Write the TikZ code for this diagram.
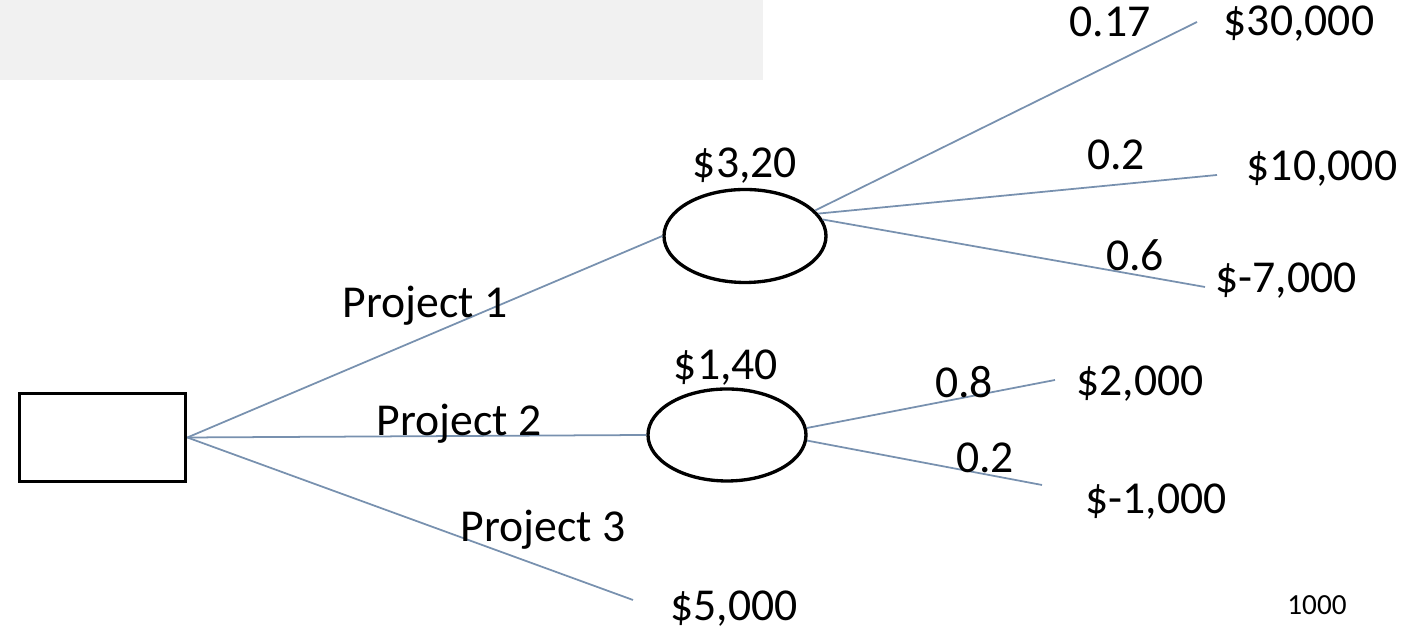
\documentclass[tikz,border=0pt]{standalone}
\usepackage{fontspec}
\setmainfont{Carlito}
\usetikzlibrary{shapes.geometric}
\definecolor{branch}{RGB}{120,145,175}
\definecolor{panel}{RGB}{241,241,241}
\tikzset{
  px/.style={x=0.1mm,y=-0.1mm},
  decision/.style={draw=black,line width=1.05pt,fill=white,minimum width=16.6mm,minimum height=8.8mm,inner sep=0pt},
  chance/.style={ellipse,draw=black,line width=0.95pt,fill=white,inner sep=0pt},
  branchline/.style={draw=branch,line width=0.5pt},
  lbl/.style={anchor=base,inner sep=0pt,font=\fontsize{13}{15}\selectfont},
  small/.style={anchor=base,inner sep=0pt,font=\fontsize{8.3}{10}\selectfont}
}
\begin{document}
\begin{tikzpicture}[px]
\useasboundingbox (0,0) rectangle (1412,630);
\fill[panel] (0,0) rectangle (763,80);
% nodes
\node[decision] (root) at (102.5,437.5) {};
\node[chance,minimum width=16.2mm,minimum height=9.3mm] (c1) at (745,236) {};
\node[chance,minimum width=15.8mm,minimum height=9.2mm] (c2) at (727,435) {};
% free ends
\coordinate (e3) at (633,600);
\coordinate (e11) at (1197,22);
\coordinate (e12) at (1217,175);
\coordinate (e13) at (1205,287);
\coordinate (e21) at (1055,380);
\coordinate (e22) at (1042,485);
% connectors
\draw[branchline] (root.east) -- (c1.west);
\draw[branchline] (root.east) -- (c2.west);
\draw[branchline] (root.east) -- (e3);
\draw[branchline] (c1.20) -- (e11);
\draw[branchline] (c1.17) -- (e12);
\draw[branchline] (c1.12) -- (e13);
\draw[branchline] (c2.5) -- (e21);
\draw[branchline] (c2.-4) -- (e22);
% labels
\node[lbl] (p1) at (425,318) {Project 1};
\node[lbl] (p2) at (459,436) {Project 2};
\node[lbl] (p3) at (543,542) {Project 3};
\node[lbl] (v5) at (734,621) {\$5,000};
\node[lbl] (ev1) at (745,178) {\$3,20};
\node[lbl] (ev2) at (726,380) {\$1,40};
\node[lbl] (pr11) at (1110,37) {0.17};
\node[lbl] (v11) at (1299,36) {\$30,000};
\node[lbl] (pr12) at (1116,170) {0.2};
\node[lbl] (v12) at (1322,181) {\$10,000};
\node[lbl] (pr13) at (1135,271) {0.6};
\node[lbl] (v13) at (1286,293) {\$-7,000};
\node[lbl] (pr21) at (964,398) {0.8};
\node[lbl] (v21) at (1140,396) {\$2,000};
\node[lbl] (pr22) at (985,473) {0.2};
\node[lbl] (v22) at (1156,514) {\$-1,000};
\node[small] (k) at (1317,615) {1000};
\end{tikzpicture}
\end{document}
